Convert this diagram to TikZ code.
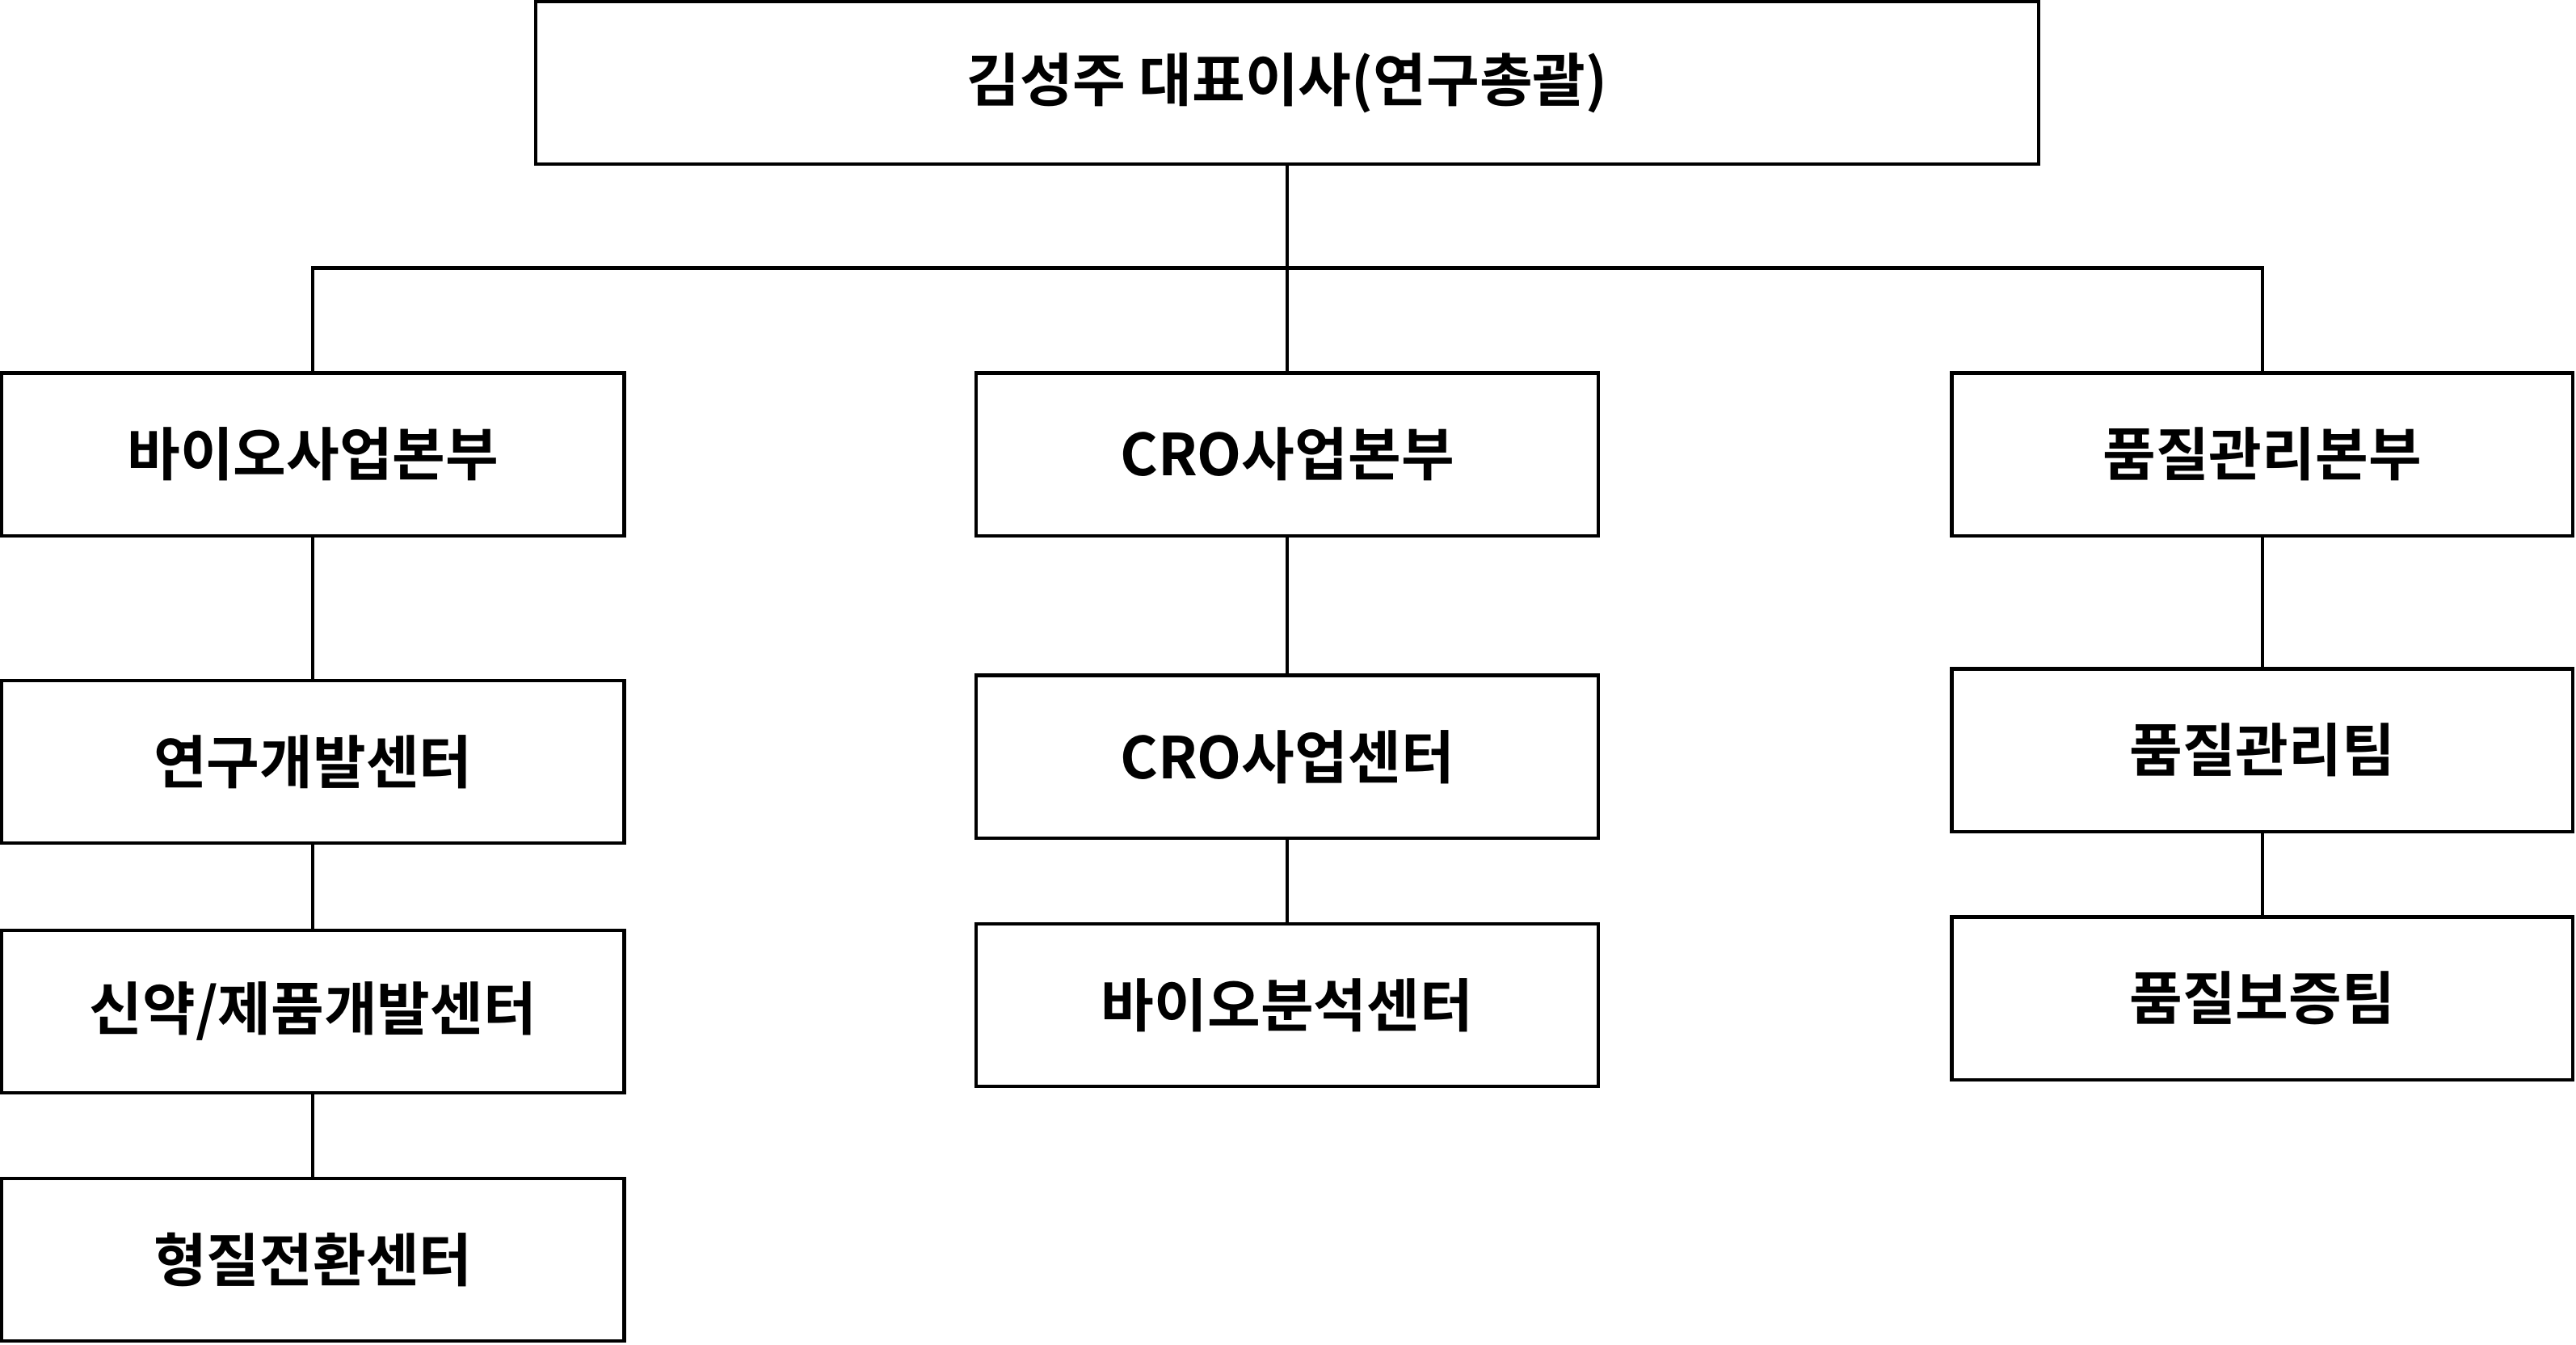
\documentclass[tikz,border=0pt]{standalone}
\usepackage{fontspec}
\setmainfont{Noto Sans CJK KR}[BoldFont={Noto Sans CJK KR Bold}]
\begin{document}
\begin{tikzpicture}[x=0.02cm,y=-0.02cm,
  box/.style={draw,line width=1.2pt,inner sep=0pt,font=\fontsize{20}{24}\selectfont\bfseries},
  con/.style={line width=1.2pt}]
\useasboundingbox (0,0) rectangle (1568,818);
\newcommand\bx[6]{\node[box,minimum width={(#3-#2)*0.02cm},minimum height={(#5-#4)*0.02cm}] (#1) at ({(#2+#3)/2},{(#4+#5)/2}) {#6};}
\bx{top}{326}{1241}{1}{100}{김성주 대표이사(연구총괄)}
\bx{a}{1}{380}{227}{326}{바이오사업본부}
\bx{b}{594}{973}{227}{326}{CRO사업본부}
\bx{c}{1188}{1566}{227}{326}{품질관리본부}
\bx{a1}{1}{380}{414}{513}{연구개발센터}
\bx{a2}{1}{380}{566}{665}{신약/제품개발센터}
\bx{a3}{1}{380}{717}{816}{형질전환센터}
\bx{b1}{594}{973}{411}{510}{CRO사업센터}
\bx{b2}{594}{973}{562}{661}{바이오분석센터}
\bx{c1}{1188}{1566}{407}{506}{품질관리팀}
\bx{c2}{1188}{1566}{558}{657}{품질보증팀}
\coordinate (j) at (783,163);
\draw[con] (top.south) -- (b.north);
\draw[con] (a.north) |- (j) -| (c.north);
\draw[con] (a) -- (a1); \draw[con] (a1) -- (a2); \draw[con] (a2) -- (a3);
\draw[con] (b) -- (b1); \draw[con] (b1) -- (b2);
\draw[con] (c) -- (c1); \draw[con] (c1) -- (c2);
\end{tikzpicture}
\end{document}
